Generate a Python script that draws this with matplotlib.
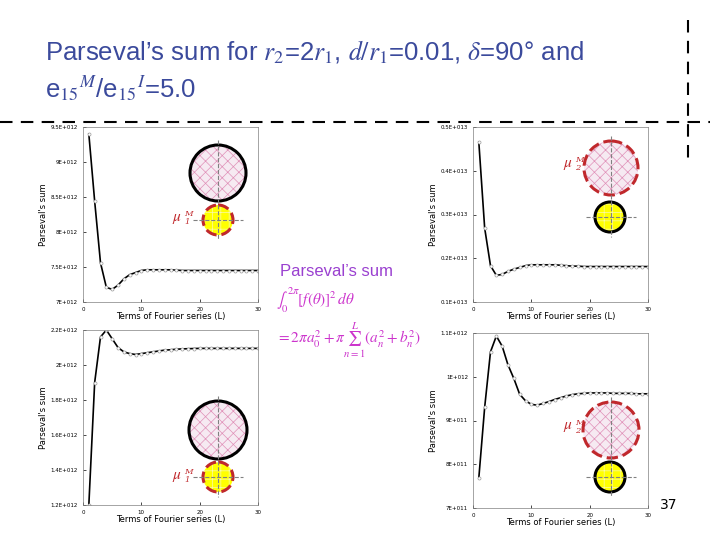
import numpy as np
import matplotlib.pyplot as plt
from matplotlib.patches import Circle

L = np.arange(1, 31)

# Parseval's sum vs number of Fourier terms
tl_y = [9.40, 8.44, 7.56, 7.21, 7.18, 7.24, 7.33, 7.39, 7.42, 7.45,
        7.46, 7.46, 7.46, 7.46, 7.46, 7.455, 7.45, 7.45, 7.45, 7.45,
        7.45, 7.45, 7.45, 7.45, 7.45, 7.45, 7.45, 7.45, 7.45, 7.45]
tr_y = [0.465, 0.269, 0.183, 0.161, 0.163, 0.170, 0.175, 0.179, 0.183, 0.185,
        0.185, 0.185, 0.185, 0.185, 0.184, 0.183, 0.182, 0.182, 0.181, 0.181,
        0.181, 0.181, 0.181, 0.181, 0.181, 0.181, 0.181, 0.181, 0.181, 0.181]
bl_y = [1.20, 1.90, 2.16, 2.20, 2.15, 2.10, 2.075, 2.065, 2.06, 2.065,
        2.07, 2.075, 2.08, 2.085, 2.087, 2.09, 2.092, 2.093, 2.094, 2.095,
        2.095, 2.095, 2.095, 2.095, 2.095, 2.095, 2.095, 2.095, 2.095, 2.095]
br_y = [7.69, 9.30, 10.57, 10.93, 10.70, 10.27, 9.96, 9.60, 9.45, 9.37,
        9.35, 9.39, 9.43, 9.48, 9.52, 9.56, 9.59, 9.61, 9.62, 9.63,
        9.63, 9.63, 9.63, 9.62, 9.62, 9.62, 9.62, 9.61, 9.61, 9.61]

panels = [
    # (left, top px, values, ticks, tick labels)
    (83, 127, tl_y, [7, 7.5, 8, 8.5, 9, 9.5],
     ['7E+012', '7.5E+012', '8E+012', '8.5E+012', '9E+012', '9.5E+012']),
    (473, 127, tr_y, [0.1, 0.2, 0.3, 0.4, 0.5],
     ['0.1E+013', '0.2E+013', '0.3E+013', '0.4E+013', '0.5E+013']),
    (83, 330, bl_y, [1.2, 1.4, 1.6, 1.8, 2.0, 2.2],
     ['1.2E+012', '1.4E+012', '1.6E+012', '1.8E+012', '2E+012', '2.2E+012']),
    (473, 333, br_y, [7, 8, 9, 10, 11],
     ['7E+011', '8E+011', '9E+011', '1E+012', '1.1E+012']),
]

plt.rcParams['hatch.linewidth'] = 0.5
plt.rcParams['mathtext.fontset'] = 'stix'
W, H = 720, 540
fig = plt.figure(figsize=(7.2, 5.4), dpi=100)

for left, top, vals, ticks, labels in panels:
    ax = fig.add_axes([left / W, 1 - (top + 175) / H, 175 / W, 175 / H])
    ax.plot(L, vals, 'k-', lw=1.2, marker='o', ms=2.2, mfc='white', mec='#999999', mew=0.5)
    ax.set_xlim(0, 30)
    ax.set_ylim(ticks[0], ticks[-1])
    ax.set_xticks([0, 10, 20, 30])
    ax.set_yticks(ticks)
    ax.set_yticklabels(labels)
    ax.tick_params(labelsize=4, length=2, width=0.5, direction='in')
    ax.set_xlabel('Terms of Fourier series (L)', fontsize=6, labelpad=0)
    ax.set_ylabel("Parseval's sum", fontsize=6, labelpad=2)
    for s in ax.spines.values():
        s.set_linewidth(0.5)
        s.set_color('gray')

# overlay in pixel coordinates for decorations
ov = fig.add_axes([0, 0, 1, 1])
ov.set_xlim(0, W)
ov.set_ylim(H, 0)
ov.axis('off')

title_c = '#3b4a9c'
ov.text(45, 52, r"Parseval’s sum for $r_2$=2$r_1$, $d/r_1$=0.01, $\delta$=90° and",
        fontsize=18.5, color=title_c, va='center', family='Liberation Sans')
ov.text(45, 88, r"e$_{15}$$^M$/e$_{15}$$^I$=5.0", fontsize=18.5, color=title_c, va='center',
        family='Liberation Sans')
ov.plot([0, 710], [122, 122], 'k--', lw=1.5, dashes=(6, 4))
ov.plot([688, 688], [20, 160], 'k--', lw=1.5, dashes=(6, 4))

def inclusion(cx, cy, r, face, edge, dashed):
    ov.add_patch(Circle((cx, cy), r, facecolor=face, edgecolor='none'))
    hc = '#e090b8' if face != 'yellow' else '#f8f8b0'
    ov.add_patch(Circle((cx, cy), r, facecolor='none', edgecolor=hc, lw=0,
                        hatch='xxx' if face != 'yellow' else '++'))
    ov.add_patch(Circle((cx, cy), r, facecolor='none', edgecolor=edge, lw=2.2,
                        ls='--' if dashed else '-'))

hatch_pink = '#f6eaf2'
insets = [
    # big circle, small circle, label position, label
    ((218, 173, 28, hatch_pink, 'black', False), (218, 220, 15, 'yellow', '#c0282c', True), (172, 218), 'M\n1'),
    ((611, 168, 27, hatch_pink, '#c0282c', True), (610, 217, 15, 'yellow', 'black', False), (563, 164), 'M\n2'),
    ((218, 430, 29, hatch_pink, 'black', False), (218, 477, 15, 'yellow', '#c0282c', True), (172, 476), 'M\n1'),
    ((611, 430, 28, hatch_pink, '#c0282c', True), (610, 477, 15, 'yellow', 'black', False), (563, 427), 'M\n2'),
]
for big, small, (lx, ly), lab in insets:
    for cx, cy, r, face, edge, dashed in (big, small):
        inclusion(cx, cy, r, face, edge, dashed)
    cx = big[0]
    ov.plot([cx, cx], [big[1] - big[2] - 5, small[1] + small[2] + 5], color='gray', lw=0.8, ls='--')
    ov.plot([cx - 25, cx + 25], [small[1], small[1]], color='gray', lw=0.8, ls='--')
    ov.text(lx, ly, r'$\mu$', color='#c0282c', fontsize=11, va='center')
    ov.text(lx + 12, ly, lab, color='#c0282c', fontsize=6, va='center', style='italic',
            family='DejaVu Serif', linespacing=1.1)

pink = '#cc33cc'
ov.text(280, 272, "Parseval’s sum", fontsize=12, color='#9a40d0', va='center',
        family='Liberation Sans')
ov.text(276, 300, r'$\int_0^{2\pi}[f(\theta)]^2\,d\theta$', fontsize=11, color=pink, va='center')
ov.text(276, 340, r'$=2\pi a_0^2+\pi\sum_{n=1}^{L}(a_n^2+b_n^2)$', fontsize=11, color=pink, va='center')
ov.text(660, 505, '37', fontsize=10, color='black', va='center')

fig.savefig('out.png', dpi=100)
